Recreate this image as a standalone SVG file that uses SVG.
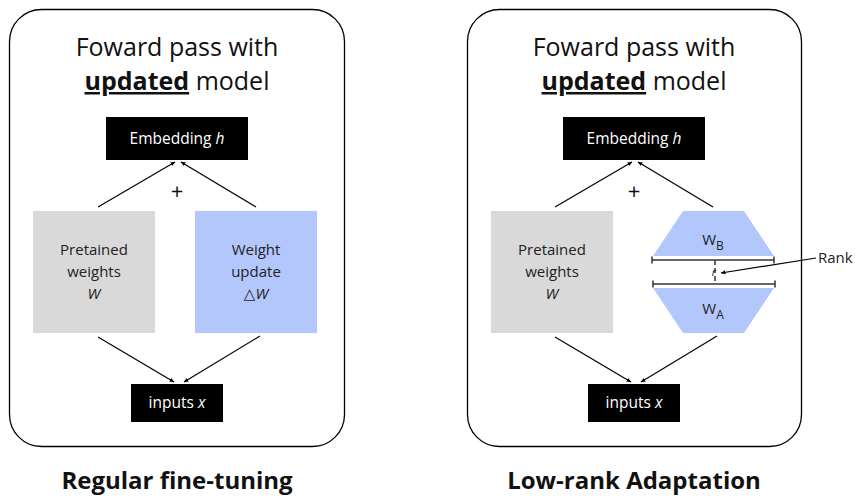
<svg xmlns="http://www.w3.org/2000/svg" width="855" height="497" viewBox="0 0 855 497">
<defs>
<marker id="ah" viewBox="0 0 10 10" refX="9" refY="5" markerWidth="5" markerHeight="5" orient="auto" markerUnits="userSpaceOnUse"><path d="M0,1 L10,5 L0,9 z" fill="#000"/></marker>
</defs>
<style>
text{font-family:"Open Sans","Noto Sans","DejaVu Sans",sans-serif;text-anchor:middle;fill:#222}
.panel{fill:#fff;stroke:#000;stroke-width:1.3}
.title{font-size:25px;fill:#111}
.blk{fill:#000}
.wt{fill:#fff;font-size:15.5px}
.lbl{font-size:15px;fill:#222}
.gray{fill:#d9d9d9}
.blue{fill:#b4c7fc}
.conn line{stroke:#000;stroke-width:1.2}
.cap{font-size:24px;font-weight:bold;fill:#111}
.plus{font-size:22px;fill:#111}
</style>

<g id="panel-left">
<rect class="panel" x="9.5" y="9.5" width="335" height="437" rx="32"/>
<text class="title" x="177" y="56">Foward pass with</text>
<text class="title" x="177" y="90"><tspan font-weight="bold" text-decoration="underline">updated</tspan> model</text>
</g>
<g id="emb-left"><rect class="blk" x="106" y="117" width="142" height="43"/><text class="wt" x="177" y="144">Embedding <tspan font-style="italic">h</tspan></text></g>
<g id="pre-left"><rect class="gray" x="33" y="211" width="122" height="122"/>
<text class="lbl" x="94" y="255">Pretained</text><text class="lbl" x="94" y="277">weights</text><text class="lbl" x="94" y="299" font-style="italic">W</text></g>
<g id="upd-left"><rect class="blue" x="195" y="211" width="122" height="122"/>
<text class="lbl" x="256" y="255">Weight</text><text class="lbl" x="256" y="277">update</text><text class="lbl" x="256" y="299">△<tspan font-style="italic">W</tspan></text></g>
<g id="in-left"><rect class="blk" x="131" y="384" width="92" height="38"/><text class="wt" x="177" y="408">inputs <tspan font-style="italic">x</tspan></text></g>
<text class="plus" x="177" y="199">+</text>
<text class="cap" x="177" y="489">Regular fine-tuning</text>

<g id="panel-right">
<rect class="panel" x="467.5" y="9.5" width="334" height="437" rx="32"/>
<text class="title" x="634" y="56">Foward pass with</text>
<text class="title" x="634" y="90"><tspan font-weight="bold" text-decoration="underline">updated</tspan> model</text>
</g>
<g id="emb-right"><rect class="blk" x="563" y="117" width="142" height="43"/><text class="wt" x="634" y="144">Embedding <tspan font-style="italic">h</tspan></text></g>
<g id="pre-right"><rect class="gray" x="491" y="211" width="122" height="122"/>
<text class="lbl" x="552" y="255">Pretained</text><text class="lbl" x="552" y="277">weights</text><text class="lbl" x="552" y="299" font-style="italic">W</text></g>
<g id="wb"><polygon class="blue" points="683,211 744,211 774,256 653,256"/>
<text class="lbl" x="713" y="245" font-size="17">W<tspan font-size="12" dy="5">B</tspan></text></g>
<g id="wa"><polygon class="blue" points="653,288 774,288 744,333 683,333"/>
<text class="lbl" x="713" y="314" font-size="17">W<tspan font-size="12" dy="5">A</tspan></text></g>
<g id="rank-bars" stroke="#333" stroke-width="1.5" fill="none">
<line x1="652" y1="260" x2="774" y2="260"/><line x1="652" y1="256.5" x2="652" y2="263.5"/><line x1="774" y1="256.5" x2="774" y2="263.5"/>
<line x1="653" y1="284" x2="775" y2="284"/><line x1="653" y1="280.5" x2="653" y2="287.5"/><line x1="775" y1="280.5" x2="775" y2="287.5"/>
<line x1="715" y1="260" x2="715" y2="284" stroke-dasharray="5,3"/>
</g>
<text x="714" y="276" font-size="11" font-style="italic" fill="#222">r</text>
<g id="in-right"><rect class="blk" x="588" y="384" width="92" height="38"/><text class="wt" x="634" y="408">inputs <tspan font-style="italic">x</tspan></text></g>
<text class="plus" x="634" y="199">+</text>
<text x="818" y="263" font-size="15" fill="#222" style="text-anchor:start">Rank</text>
<text class="cap" x="634" y="489">Low-rank Adaptation</text>

<g class="conn" id="connectors">
<line x1="98" y1="207" x2="175" y2="162" marker-end="url(#ah)"/>
<line x1="256" y1="207" x2="181" y2="162" marker-end="url(#ah)"/>
<line x1="98" y1="337" x2="174" y2="382" marker-end="url(#ah)"/>
<line x1="260" y1="336" x2="184" y2="382" marker-end="url(#ah)"/>
<line x1="555" y1="207" x2="632" y2="162" marker-end="url(#ah)"/>
<line x1="713" y1="207" x2="638" y2="162" marker-end="url(#ah)"/>
<line x1="555" y1="337" x2="631" y2="382" marker-end="url(#ah)"/>
<line x1="717" y1="336" x2="641" y2="382" marker-end="url(#ah)"/>
<line x1="816" y1="258" x2="721" y2="273" marker-end="url(#ah)"/>
</g>
</svg>
